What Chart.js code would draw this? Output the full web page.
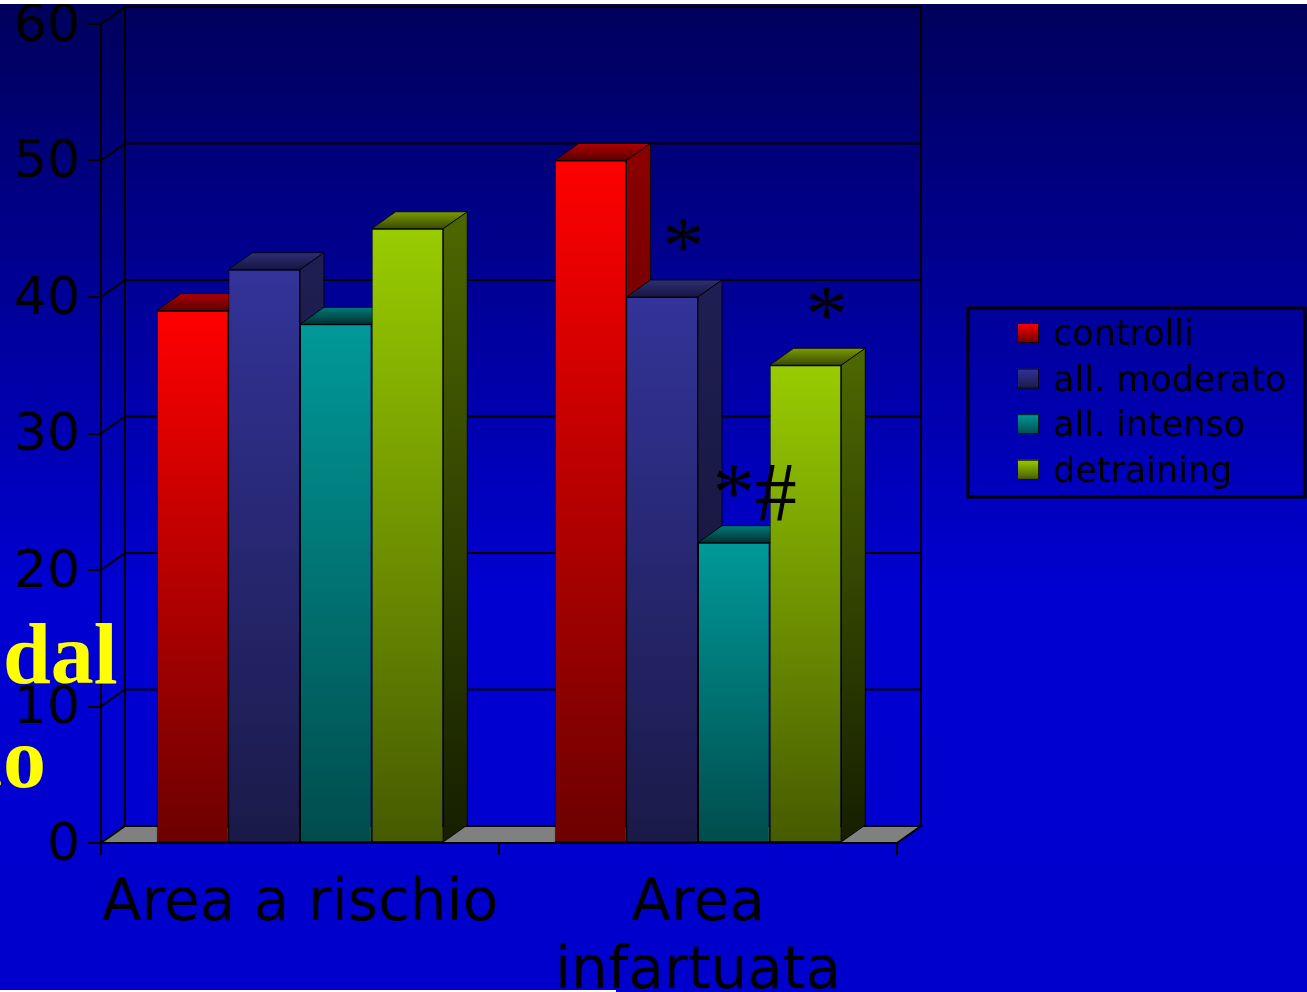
<!DOCTYPE html>
<html>
<head>
<meta charset="utf-8">
<script src="https://cdn.jsdelivr.net/npm/chart.js@4.4.1/dist/chart.umd.min.js"></script>
<style>
  html, body { margin: 0; padding: 0; background: #fff; overflow: hidden; }
  #wrap { width: 1307px; height: 992px; }
</style>
</head>
<body>
<div id="wrap"><canvas id="grafico" width="1307" height="992"></canvas></div>
<script>
// dati
const categorie = ['Area a rischio', ['Area', 'infartuata']];
const serie = ['controlli', 'all. moderato', 'all. intenso', 'detraining'];
const controlli = [39, 50];
const moderato = [42, 40];
const intenso = [38, 22];
const detraining = [45, 35];
const significativita = [['', ''], ['', '*'], ['', '*#'], ['', '*']];
const yMin = 0, yMax = 60, yStep = 10;

// colori: fronte (alto, basso), lato (alto, basso), tetto (dietro, davanti)
const colori = [
    { front: ['#ff0000', '#6c0000'], side: ['#8a0000', '#3a0000'], top: ['#b00000', '#5a0000'] },
    { front: ['#333399', '#1a1a48'], side: ['#1e1e52', '#121230'], top: ['#2e2e78', '#161640'] },
    { front: ['#009999', '#004c4c'], side: ['#005555', '#002a2a'], top: ['#007a7a', '#003030'] },
    { front: ['#99cc00', '#465a00'], side: ['#4c6600', '#161e00'], top: ['#7a9a00', '#3a4a00'] }
];
const DX = 24, DY = 17;
const valori = [controlli, moderato, intenso, detraining];

const effetto3d = {
    id: 'effetto3d',
    beforeDraw(chart) {
        const { ctx, width, height } = chart;
        const g = ctx.createLinearGradient(0, 0, 0, height);
        g.addColorStop(0, '#00005a');
        g.addColorStop(0.3, '#000098');
        g.addColorStop(0.6, '#0000d2');
        g.addColorStop(1, '#0000cc');
        ctx.save();
        ctx.fillStyle = g;
        ctx.fillRect(0, 0, width, height);
        ctx.restore();
    },
    beforeDatasetsDraw(chart) {
        const { ctx, chartArea: a, scales: { y } } = chart;
        ctx.save();
        ctx.strokeStyle = '#000';
        ctx.lineWidth = 2;
        // parete di fondo e laterale
        for (let v = yMin; v <= yMax; v += yStep) {
            const py = y.getPixelForValue(v);
            ctx.beginPath();
            ctx.moveTo(a.left, py);
            ctx.lineTo(a.left + DX, py - DY);
            ctx.lineTo(a.right + DX, py - DY);
            ctx.stroke();
        }
        ctx.beginPath();
        ctx.moveTo(a.left + DX, a.top - DY);
        ctx.lineTo(a.left + DX, a.bottom - DY);
        ctx.moveTo(a.right + DX, a.top - DY);
        ctx.lineTo(a.right + DX, a.bottom - DY);
        ctx.stroke();
        // pavimento
        ctx.beginPath();
        ctx.moveTo(a.left, a.bottom);
        ctx.lineTo(a.left + DX, a.bottom - DY);
        ctx.lineTo(a.right + DX, a.bottom - DY);
        ctx.lineTo(a.right, a.bottom);
        ctx.closePath();
        ctx.fillStyle = '#808080';
        ctx.fill();
        ctx.stroke();

        // lati e tetti delle barre, da sinistra a destra
        ctx.lineWidth = 1;
        ctx.strokeStyle = 'rgba(0,0,0,0.85)';
        const n = chart.data.labels.length;
        for (let i = 0; i < n; i++) {
            chart.data.datasets.forEach((ds, d) => {
                const bar = chart.getDatasetMeta(d).data[i];
                const L = bar.x - bar.width / 2, R = bar.x + bar.width / 2;
                const T = bar.y, B = bar.base;
                const c = colori[d];
                // tetto
                let g = ctx.createLinearGradient(0, T - DY, 0, T);
                g.addColorStop(0, c.top[0]);
                g.addColorStop(1, c.top[1]);
                ctx.beginPath();
                ctx.moveTo(L, T);
                ctx.lineTo(L + DX, T - DY);
                ctx.lineTo(R + DX, T - DY);
                ctx.lineTo(R, T);
                ctx.closePath();
                ctx.fillStyle = g;
                ctx.fill();
                ctx.stroke();
                // lato destro
                g = ctx.createLinearGradient(0, T, 0, B);
                g.addColorStop(0, c.side[0]);
                g.addColorStop(1, c.side[1]);
                ctx.beginPath();
                ctx.moveTo(R, T);
                ctx.lineTo(R + DX, T - DY);
                ctx.lineTo(R + DX, B - DY);
                ctx.lineTo(R, B);
                ctx.closePath();
                ctx.fillStyle = g;
                ctx.fill();
                ctx.stroke();
            });
        }
        ctx.restore();
    },
    afterDatasetsDraw(chart) {
        const { ctx } = chart;
        ctx.save();
        ctx.fillStyle = '#000';
        ctx.font = '84px "Liberation Serif"';
        ctx.textAlign = 'center';
        ctx.textBaseline = 'alphabetic';
        significativita.forEach((segni, d) => {
            segni.forEach((s, i) => {
                if (!s) return;
                const bar = chart.getDatasetMeta(d).data[i];
                ctx.fillText(s, bar.x + 21, bar.y - 22);
            });
        });
        ctx.restore();
    },
    afterDraw(chart) {
        const { ctx } = chart;
        ctx.save();
        // testo della diapositiva tagliato a sinistra
        ctx.fillStyle = '#ffff00';
        ctx.font = 'bold 86px "Liberation Serif"';
        ctx.textBaseline = 'alphabetic';
        ctx.textAlign = 'left';
        ctx.fillText('dal', 3, 683);
        ctx.textAlign = 'right';
        ctx.fillText('co', 46, 787);

        // legenda
        ctx.strokeStyle = '#000';
        ctx.lineWidth = 3;
        ctx.strokeRect(968, 308, 337, 189);
        ctx.font = '35px "DejaVu Sans"';
        ctx.textAlign = 'left';
        serie.forEach((nome, d) => {
            const base = 345 + d * 45.6;
            const g = ctx.createLinearGradient(0, base - 22, 0, base - 2);
            g.addColorStop(0, colori[d].front[0]);
            g.addColorStop(1, colori[d].front[1]);
            ctx.fillStyle = g;
            ctx.fillRect(1017, base - 22, 22, 20);
            ctx.lineWidth = 1;
            ctx.strokeStyle = 'rgba(0,0,0,0.8)';
            ctx.strokeRect(1017.5, base - 21.5, 21, 19);
            ctx.fillStyle = '#000';
            ctx.fillText(nome, 1053, base);
        });

        // bordi bianchi della cattura
        ctx.fillStyle = '#fff';
        ctx.fillRect(0, 0, chart.width, 4);
        ctx.fillRect(0, 990, 616, 2);
        ctx.restore();
    }
};

const ctx = document.getElementById('grafico').getContext('2d');
new Chart(ctx, {
    type: 'bar',
    data: {
        labels: categorie,
        datasets: serie.map((nome, d) => ({
            label: nome,
            data: valori[d],
            backgroundColor: (c) => {
                const ch = c.chart;
                if (!ch.chartArea || c.raw === undefined) return colori[d].front[0];
                const y = ch.scales.y;
                const g = ch.ctx.createLinearGradient(0, y.getPixelForValue(c.raw), 0, y.getPixelForValue(0));
                g.addColorStop(0, colori[d].front[0]);
                g.addColorStop(1, colori[d].front[1]);
                return g;
            },
            borderColor: 'rgba(0,0,0,0.85)',
            borderWidth: 1,
            borderSkipped: false,
            categoryPercentage: 0.72,
            barPercentage: 1.0
        }))
    },
    options: {
        responsive: false,
        animation: false,
        devicePixelRatio: 1,
        layout: { padding: { top: 24, right: 410, left: 0, bottom: 0 } },
        plugins: { legend: { display: false }, tooltip: { enabled: false } },
        scales: {
            x: {
                afterFit: (s) => { s.height = 149; s.paddingLeft = 0; s.paddingRight = 0; },
                grid: { offset: true, drawOnChartArea: false, tickLength: 12, color: '#000', lineWidth: 2 },
                border: { display: true, color: '#000', width: 2 },
                ticks: { color: '#000', padding: 16, autoSkip: false, font: { family: 'DejaVu Sans', size: 58, lineHeight: 1.17 }, maxRotation: 0 }
            },
            y: {
                min: yMin,
                max: yMax,
                afterFit: (s) => { s.width = 101; s.paddingTop = 0; s.paddingBottom = 0; },
                grid: { drawOnChartArea: false, tickLength: 13, color: '#000', lineWidth: 2 },
                border: { display: true, color: '#000', width: 2 },
                ticks: { stepSize: yStep, color: '#000', padding: 8, labelOffset: 3, font: { family: 'DejaVu Sans', size: 52, lineHeight: 1 } }
            }
        }
    },
    plugins: [effetto3d]
});
</script>
</body>
</html>
